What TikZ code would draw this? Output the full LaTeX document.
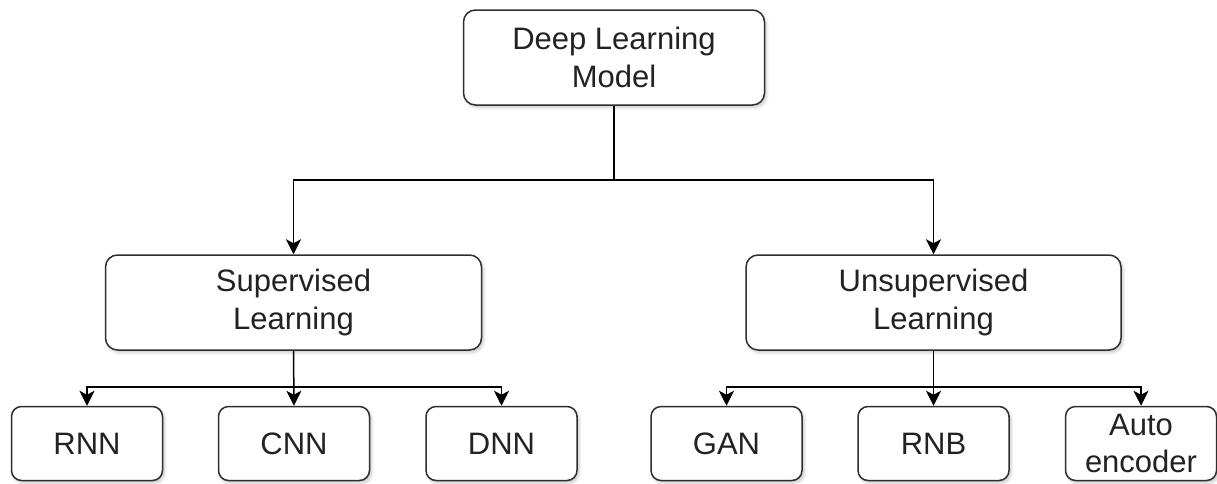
\documentclass[tikz,border=0pt]{standalone}
\usepackage{fontspec}
\setmainfont{Liberation Sans}
\usetikzlibrary{arrows.meta,shadows.blur}
\definecolor{inkline}{HTML}{2E2E2E}
\definecolor{inktext}{HTML}{222222}
\tikzset{
  x=1pt, y=-1pt,
  box/.style={draw=inkline, line width=1.5pt, fill=white, rounded corners=12pt,
    align=center, text=inktext, inner sep=0pt,
    font=\fontsize{31}{38}\selectfont,
    blur shadow={shadow xshift=2pt, shadow yshift=-2.5pt, shadow blur radius=3pt,
      shadow blur steps=6, shadow opacity=22}},
  bigbox/.style={box, minimum height=95pt},
  leafbox/.style={box, minimum width=151pt, minimum height=74pt, rounded corners=10pt},
  link/.style={draw=black, line width=1.5pt,
    -{Stealth[length=15pt, width=15pt, inset=4pt]}},
}
\begin{document}
\begin{tikzpicture}
  \useasboundingbox (0,0) rectangle (1217,483);

  % levels of the tree
  \node[bigbox, minimum width=301pt] (root) at (614,57.5) {Deep Learning\\Model};
  \node[bigbox, minimum width=376pt] (sup) at (293.5,302.5) {Supervised\\Learning};
  \node[bigbox, minimum width=375pt] (unsup) at (933.5,302.5) {Unsupervised\\Learning};

  \node[leafbox] (rnn) at (87,443.5) {RNN};
  \node[leafbox] (cnn) at (294,443.5) {CNN};
  \node[leafbox] (dnn) at (501.5,443.5) {DNN};
  \node[leafbox] (gan) at (726.5,443.5) {GAN};
  \node[leafbox] (rnb) at (933.5,443.5) {RNB};
  \node[leafbox, font=\fontsize{31}{37}\selectfont] (auto) at (1141,443.5) {Auto\\encoder};

  % heights of the horizontal branch lines
  \coordinate (bus0) at (0,180);
  \coordinate (bus1) at (0,387);

  % root to the two learning families
  \draw[link] (root.south) |- (sup.north |- bus0) -- (sup.north);
  \draw[link] (root.south) |- (unsup.north |- bus0) -- (unsup.north);

  % supervised models
  \draw[link] (sup.south) |- (rnn.north |- bus1) -- (rnn.north);
  \draw[link] (sup.south) -- (cnn.north);
  \draw[link] (sup.south) |- (dnn.north |- bus1) -- (dnn.north);

  % unsupervised models
  \draw[link] (unsup.south) |- (gan.north |- bus1) -- (gan.north);
  \draw[link] (unsup.south) -- (rnb.north);
  \draw[link] (unsup.south) |- (auto.north |- bus1) -- (auto.north);
\end{tikzpicture}
\end{document}
